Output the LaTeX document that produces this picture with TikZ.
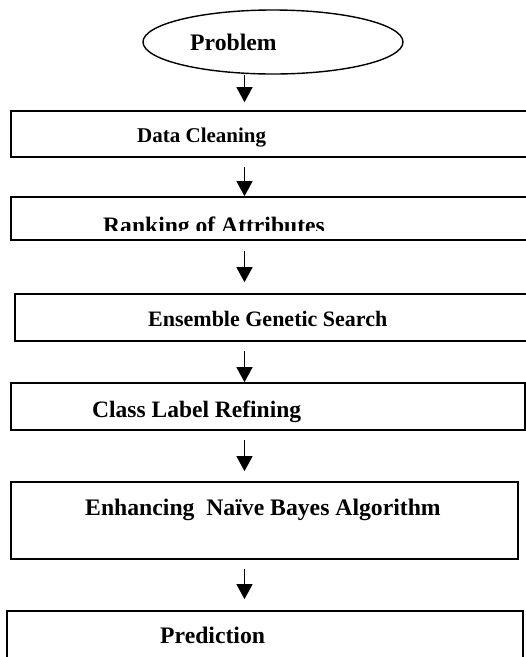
\documentclass[tikz,border=0pt]{standalone}
\usepackage{fontspec}
\setmainfont{Liberation Serif}
\usetikzlibrary{shapes.geometric,arrows.meta}

\tikzset{
  stepbox/.style={draw, line width=1.7pt, rectangle, inner sep=0pt},
  oval/.style={draw, line width=1.4pt, ellipse, inner sep=0pt,
               minimum width=260pt, minimum height=64pt},
  lbl/.style={anchor=base west, inner sep=0pt, font=\bfseries},
  flow/.style={line width=1.3pt, -{Triangle[width=16pt,length=15pt]}},
}
\newcommand{\fs}[1]{\fontsize{#1}{#1}\selectfont}

\begin{document}
\begin{tikzpicture}[x=1pt,y=-1pt]
  \useasboundingbox (0,0) rectangle (526,657);
  \clip (0,0) rectangle (526,657);
  \fill[white] (0,0) rectangle (526,657);

  % flow column
  \coordinate (ax) at (244.5,0);

  % shapes
  \node[oval] (prob) at (273,42) {};
  \node[stepbox, minimum width=529pt, minimum height=46pt] (clean) at (275.5,134) {};
  \node[stepbox, minimum width=529pt, minimum height=43pt] (rank)  at (275.5,218.5) {};
  \node[stepbox, minimum width=525pt, minimum height=47pt] (gen)   at (277.5,317.5) {};
  \node[stepbox, minimum width=514pt, minimum height=47pt] (cls)   at (268,406.5) {};
  \node[stepbox, minimum width=507pt, minimum height=77pt] (nb)    at (264.5,520.5) {};
  \node[stepbox, minimum width=516pt, minimum height=69pt] (pred)  at (265,645.5) {};

  % texts
  \node[lbl, font=\bfseries\fs{23.7}] (tprob)  at (190,50)  {Problem};
  \node[lbl, font=\bfseries\fs{21}]   (tclean) at (137,142) {Data Cleaning};
  \begin{scope}
    \clip (0,0) rectangle (526,230);
    \node[lbl, font=\bfseries\fs{23.6}] (trank) at (103,233.6) {Ranking of Attributes};
  \end{scope}
  \node[lbl, font=\bfseries\fs{22}]   (tgen)  at (148,326) {Ensemble Genetic Search};
  \node[lbl, font=\bfseries\fs{23.5}] (tcls)  at (92,417)  {Class Label Refining};
  \node[lbl, font=\bfseries\fs{23.7}] (tnb)   at (85,515)  {Enhancing\ \ Naïve Bayes Algorithm};
  \node[lbl, font=\bfseries\fs{23.7}] (tpred) at (160,643) {Prediction};

  % connectors
  \draw[flow, shorten >=8pt]                 (prob.south -| ax)  -- (clean.north -| ax);
  \draw[flow, shorten <=9pt]                 (clean.south -| ax) -- (rank.north -| ax);
  \draw[flow, shorten <=10pt, shorten >=11pt] (rank.south -| ax)  -- (gen.north -| ax);
  \draw[flow, shorten <=9pt]                 (gen.south -| ax)   -- (cls.north -| ax);
  \draw[flow, shorten <=9pt, shorten >=10pt] (cls.south -| ax)   -- (nb.north -| ax);
  \draw[flow, shorten <=9pt, shorten >=11pt] (nb.south -| ax)    -- (pred.north -| ax);
\end{tikzpicture}
\end{document}
